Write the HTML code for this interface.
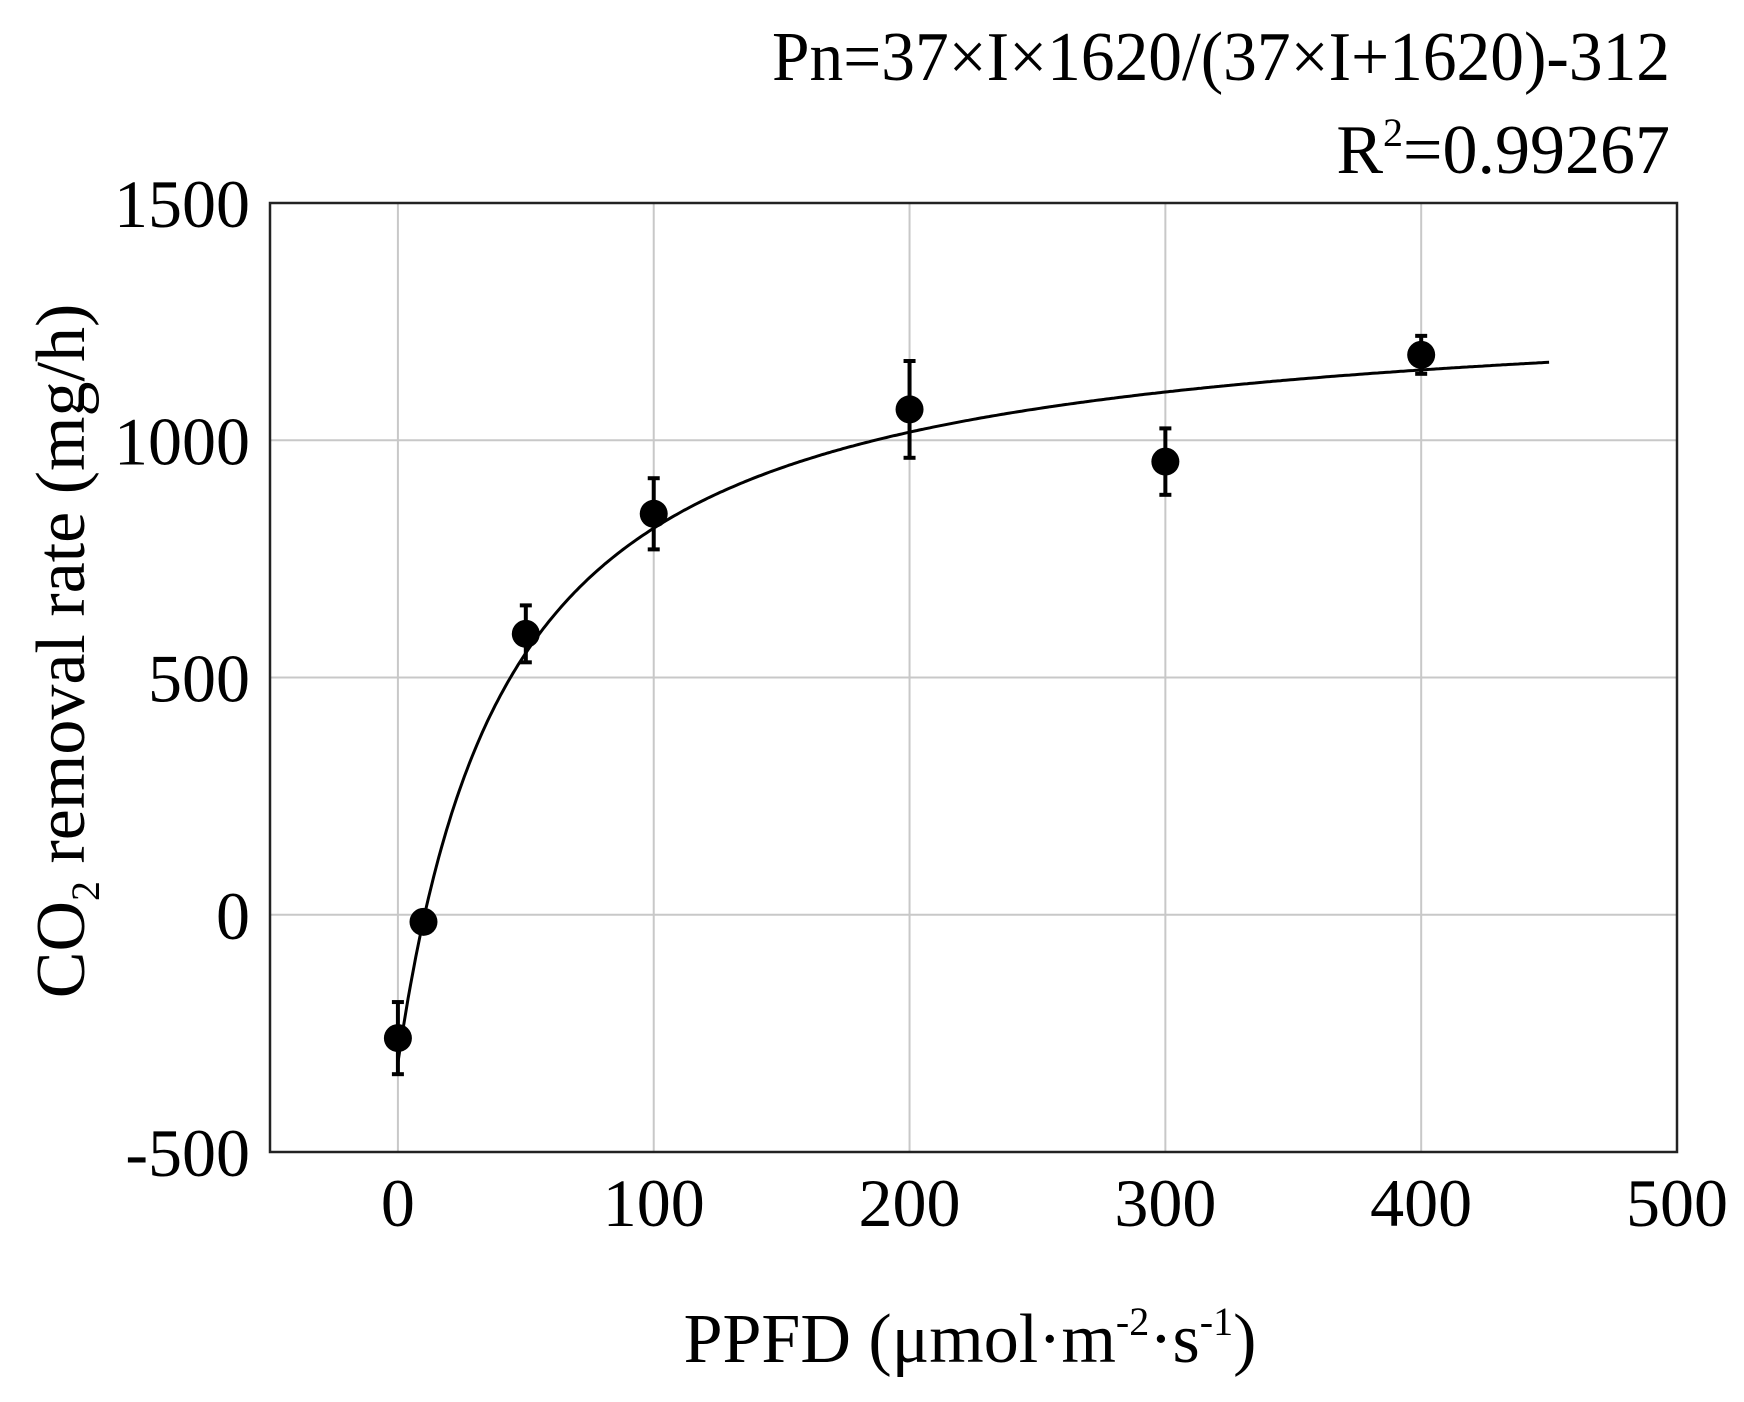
<!DOCTYPE html>
<html><head><meta charset="utf-8"><style>
html,body{margin:0;padding:0;background:#fff}
svg{display:block;font-family:"Liberation Serif",serif}
</style></head><body>
<svg id="chart" width="1744" height="1402" viewBox="0 0 1744 1402">
<text x="772" y="80" font-size="70" textLength="898" lengthAdjust="spacingAndGlyphs">Pn=37×I×1620/(37×I+1620)-312</text>
<text x="1670" y="173" font-size="70" text-anchor="end">R<tspan font-size="40" dy="-27">2</tspan><tspan dy="27">=0.99267</tspan></text>
<g id="grid"></g>
<g id="xticks"></g>
<g id="yticks"></g>
<path id="curve" fill="none" stroke="#000" stroke-width="3"/>
<g id="points"></g>
<rect x="270" y="203" width="1407" height="949" fill="none" stroke="#222" stroke-width="2.5"/>
<text x="970" y="1362" font-size="70" text-anchor="middle">PPFD (μmol·m<tspan font-size="40" dy="-27">-2</tspan><tspan dy="27">·s</tspan><tspan font-size="40" dy="-27">-1</tspan><tspan dy="27">)</tspan></text>
<text transform="translate(84,651) rotate(-90)" font-size="70" text-anchor="middle">CO<tspan font-size="40" dy="15">2</tspan><tspan dy="-15"> removal rate (mg/h)</tspan></text>
</svg>
<script>
const xVals=[0,10,50,100,200,300,400];
const yVals=[-260,-15,592,845,1065,955,1180];
const errVals=[76,10,60,75,102,70,40];
const xTickLabels=[0,100,200,300,400,500];
const yTickLabels=[-500,0,500,1000,1500];
const fitA=37,fitPmax=1620,fitRd=312;
const NS="http://www.w3.org/2000/svg";
const X=v=>270+(v+50)/550*1407;
const Y=v=>1152-(v+500)/2000*949;
function mk(t,a,p){const e=document.createElementNS(NS,t);for(const k in a)e.setAttribute(k,a[k]);p.appendChild(e);return e;}
const grid=document.getElementById('grid'),xt=document.getElementById('xticks'),yt=document.getElementById('yticks');
xTickLabels.forEach(v=>{
 const l=mk('line',{x1:X(v),x2:X(v),y1:203,y2:1152,stroke:'#c8c8c8','stroke-width':2},grid);
 
 
 const t=mk('text',{x:X(v),y:1226,'font-size':68,'text-anchor':'middle'},xt);
 t.textContent=v;
 
 
});
yTickLabels.forEach(v=>{
 const l=mk('line',{x1:270,x2:1677,y1:Y(v),y2:Y(v),stroke:'#c8c8c8','stroke-width':2},grid);
 
 
 const t=mk('text',{x:250,y:Y(v)+24,'font-size':68,'text-anchor':'end'},yt);
 t.textContent=v;
 
 
});
let d='';
for(let i=0;i<=450;i+=1){const p=fitA*i*fitPmax/(fitA*i+fitPmax)-fitRd;d+=(i?'L':'M')+X(i).toFixed(1)+','+Y(p).toFixed(1);}
document.getElementById('curve').setAttribute('d',d);
const pts=document.getElementById('points');
xVals.forEach((x,i)=>{
 const g=mk('g',{},pts);
 
 
 const cx=X(x),y1=Y(yVals[i]+errVals[i]),y2=Y(yVals[i]-errVals[i]);
 mk('line',{x1:cx,x2:cx,y1:y1,y2:y2,stroke:'#000','stroke-width':4},g);
 mk('line',{x1:cx-6,x2:cx+6,y1:y1,y2:y1,stroke:'#000','stroke-width':4},g);
 mk('line',{x1:cx-6,x2:cx+6,y1:y2,y2:y2,stroke:'#000','stroke-width':4},g);
 mk('circle',{cx:cx,cy:Y(yVals[i]),r:14,fill:'#000'},g);
});
</script>
</body></html>
